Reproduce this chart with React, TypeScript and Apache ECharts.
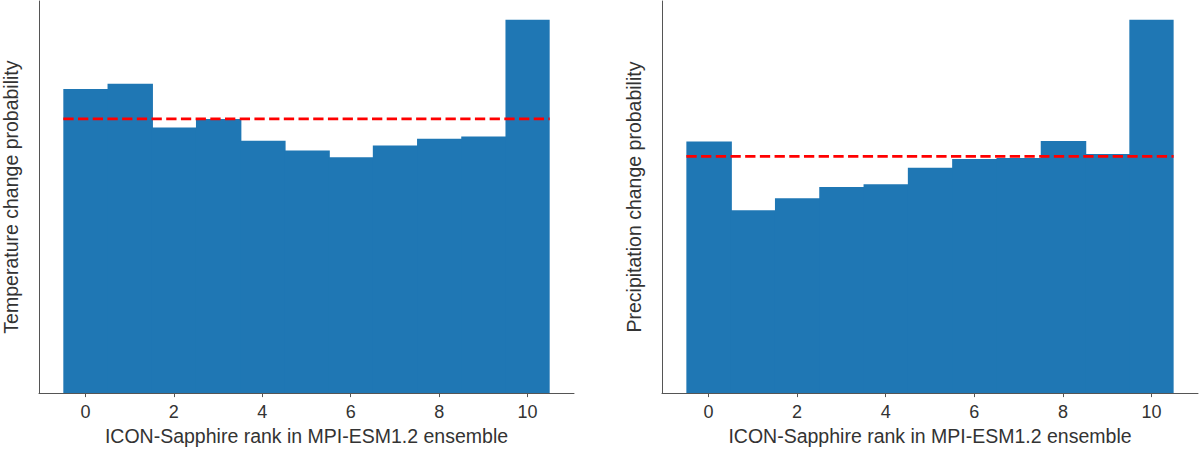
import React, { useEffect, useRef } from "react";
import * as echarts from "echarts";

const ranks = [0, 1, 2, 3, 4, 5, 6, 7, 8, 9, 10];
const temperatureProb = [0.1008, 0.1026, 0.0881, 0.0909, 0.0837, 0.0804, 0.0782, 0.0821, 0.0843, 0.0851, 0.1238];
const precipitationProb = [0.0966, 0.0702, 0.0748, 0.0792, 0.0802, 0.0866, 0.0899, 0.0903, 0.0968, 0.0918, 0.1434];
const uniformProb = 0.0909;
const xTicks = [0, 2, 4, 6, 8, 10];
const xLabel = "ICON-Sapphire rank in MPI-ESM1.2 ensemble";
const yLabels = ["Temperature change probability", "Precipitation change probability"];
const yMax = [0.13, 0.1506];
const xMin = -1.05;
const xMax = 11.05;
const binHalf = 0.5;

const FONT = "Liberation Sans, Arial, sans-serif";
const BLUE = "#1f77b4";

export default function App() {
  const ref = useRef<HTMLDivElement>(null);
  useEffect(() => {
    if (!ref.current) return;
    const chart = echarts.init(ref.current, undefined, { renderer: "svg" });
    const grids = [
      { left: 37, top: 1, width: 537, height: 394 },
      { left: 662, top: 1, width: 536, height: 394 },
    ];
    const datasets = [temperatureProb, precipitationProb];
    const xAxes = grids.map((_, i) => ({
      type: "value",
      gridIndex: i,
      min: xMin,
      max: xMax,
      name: xLabel,
      nameLocation: "middle",
      nameGap: 32,
      nameTextStyle: { fontSize: 19.5, color: "#333", fontFamily: FONT },
      axisLine: { show: true, onZero: false, lineStyle: { color: "#555", width: 1 } },
      axisTick: { show: true, length: 4, lineStyle: { color: "#555" }, customValues: xTicks },
      axisLabel: { show: true, color: "#333", fontSize: 18, fontFamily: FONT, margin: 10, customValues: xTicks },
      splitLine: { show: false },
    }));
    const yAxes = grids.map((_, i) => ({
      type: "value",
      gridIndex: i,
      min: 0,
      max: yMax[i],
      name: yLabels[i],
      nameLocation: "middle",
      nameGap: 18,
      nameTextStyle: { fontSize: 19.5, color: "#333", fontFamily: FONT },
      axisLine: { show: true, onZero: false, lineStyle: { color: "#555", width: 1 } },
      axisTick: { show: false },
      axisLabel: { show: false },
      splitLine: { show: false },
    }));
    const series: any[] = [];
    datasets.forEach((vals, i) => {
      const last = vals.length - 1;
      series.push({
        type: "custom",
        xAxisIndex: i,
        yAxisIndex: i,
        data: ranks.map((r, k) => [r, vals[k]]),
        encode: { x: 0, y: 1 },
        renderItem: (params: any, api: any) => {
          const x = api.value(0);
          const v = api.value(1);
          const p0 = api.coord([x - binHalf, v]);
          const p1 = api.coord([x + binHalf, 0]);
          const extra = params.dataIndex === last ? 0 : 1.2;
          return {
            type: "rect",
            shape: { x: p0[0], y: p0[1], width: p1[0] - p0[0] + extra, height: p1[1] - p0[1] },
            style: { fill: BLUE },
          };
        },
        z: 2,
      });
      series.push({
        type: "line",
        xAxisIndex: i,
        yAxisIndex: i,
        data: [
          [ranks[0] - binHalf, uniformProb],
          [ranks[ranks.length - 1] + binHalf, uniformProb],
        ],
        symbol: "none",
        lineStyle: { color: "#ff0000", width: 2.8, type: [10.3, 4.4] },
        z: 5,
      });
    });
    chart.setOption({
      animation: false,
      backgroundColor: "#ffffff",
      grid: grids,
      xAxis: xAxes,
      yAxis: yAxes,
      series,
    });
    return () => chart.dispose();
  }, []);
  return (
    <div
      ref={ref}
      style={{ position: "fixed", left: 0, top: 0, width: 1200, height: 451 }}
    />
  );
}
